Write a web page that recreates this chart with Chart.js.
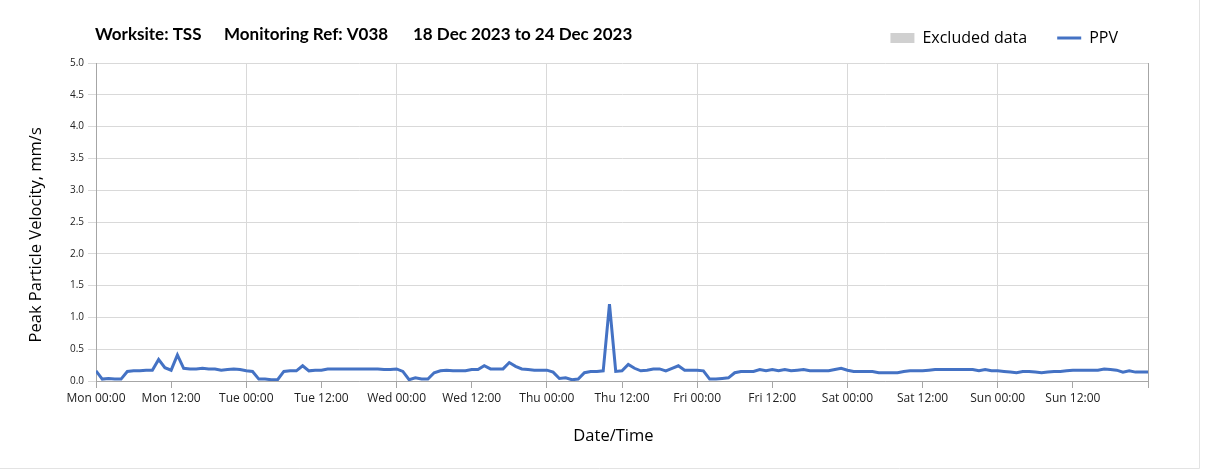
<!DOCTYPE html>
<html>
<head>
<meta charset="utf-8">
<script src="https://cdn.jsdelivr.net/npm/chart.js@4"></script>
<style>
  html, body { margin: 0; padding: 0; background: #fff; }
  #wrap { width: 1207px; height: 472px; position: relative; }
</style>
</head>
<body>
<div id="wrap"><canvas id="chart" width="1207" height="472"></canvas></div>
<script>
// hourly PPV readings, Mon 00:00 to Sun 24:00 (mm/s)
const ppv = [
  0.16, 0.03, 0.04, 0.03, 0.03, 0.15, 0.16, 0.16, 0.17, 0.17, 0.34, 0.21,
  0.17, 0.41, 0.20, 0.19, 0.19, 0.20, 0.19, 0.19, 0.17, 0.18, 0.19, 0.18,
  0.16, 0.15, 0.03, 0.03, 0.02, 0.02, 0.15, 0.16, 0.16, 0.24, 0.16, 0.17,
  0.17, 0.19, 0.19, 0.19, 0.19, 0.19, 0.19, 0.19, 0.19, 0.19, 0.18, 0.18,
  0.19, 0.15, 0.02, 0.05, 0.03, 0.03, 0.13, 0.16, 0.17, 0.16, 0.16, 0.16,
  0.18, 0.18, 0.24, 0.19, 0.19, 0.19, 0.29, 0.23, 0.19, 0.18, 0.17, 0.17,
  0.17, 0.14, 0.04, 0.05, 0.02, 0.03, 0.13, 0.15, 0.15, 0.16, 1.21, 0.15,
  0.16, 0.26, 0.20, 0.16, 0.17, 0.19, 0.19, 0.16, 0.20, 0.24, 0.17, 0.17,
  0.17, 0.16, 0.03, 0.03, 0.04, 0.05, 0.13, 0.15, 0.15, 0.15, 0.18, 0.16,
  0.18, 0.16, 0.18, 0.16, 0.17, 0.18, 0.16, 0.16, 0.16, 0.16, 0.18, 0.20,
  0.17, 0.15, 0.15, 0.15, 0.15, 0.13, 0.13, 0.13, 0.13, 0.15, 0.16, 0.16,
  0.16, 0.17, 0.18, 0.18, 0.18, 0.18, 0.18, 0.18, 0.18, 0.16, 0.18, 0.16,
  0.16, 0.15, 0.14, 0.13, 0.15, 0.15, 0.14, 0.13, 0.14, 0.15, 0.15, 0.16,
  0.17, 0.17, 0.17, 0.17, 0.17, 0.19, 0.18, 0.17, 0.14, 0.16, 0.14, 0.14,
  0.14
];

// x tick labels, one every 12 hours
const xTickLabels = [
  'Mon 00:00', 'Mon 12:00', 'Tue 00:00', 'Tue 12:00', 'Wed 00:00', 'Wed 12:00',
  'Thu 00:00', 'Thu 12:00', 'Fri 00:00', 'Fri 12:00', 'Sat 00:00', 'Sat 12:00',
  'Sun 00:00', 'Sun 12:00'
];

const titleParts = ['Worksite: TSS', 'Monitoring Ref: V038', '18 Dec 2023 to 24 Dec 2023'];
const seriesNames = ['Excluded data', 'PPV'];

const blue = '#4472C4';

// make the legend box taller so the plot starts lower, without moving the items
const legendHeight = {
  id: 'legendHeight',
  beforeUpdate(chart) {
    const lg = chart.legend;
    if (lg && !lg._tall) {
      const fit = lg.fit;
      lg.fit = function () { fit.call(this); this.height = 63; };
      lg._tall = true;
    }
  }
};

const headerPlugin = {
  id: 'header',
  afterDraw(chart) {
    const ctx = chart.ctx;
    ctx.save();
    // faint outer frame
    ctx.strokeStyle = '#e3e3e3';
    ctx.lineWidth = 1;
    ctx.beginPath();
    ctx.moveTo(1199.5, 0);
    ctx.lineTo(1199.5, 468.5);
    ctx.lineTo(0, 468.5);
    ctx.stroke();
    // right edge of plot
    const a = chart.chartArea;
    ctx.strokeStyle = '#a6a6a6';
    ctx.beginPath();
    ctx.moveTo(Math.round(a.right) + 0.5, a.top);
    ctx.lineTo(Math.round(a.right) + 0.5, a.bottom + 7);
    ctx.stroke();
    // title
    ctx.fillStyle = '#000';
    ctx.font = 'bold 17px Lato';
    ctx.textBaseline = 'middle';
    const xs = [95, 224, 413];
    titleParts.forEach((t, i) => ctx.fillText(t, xs[i], 35));
    ctx.restore();
  }
};

const ctx = document.getElementById('chart').getContext('2d');
Chart.defaults.font.family = 'Open Sans';
Chart.defaults.color = '#000';

new Chart(ctx, {
  type: 'line',
  data: {
    datasets: [
      {
        label: seriesNames[0],
        data: [],
        backgroundColor: '#d0d0d0',
        borderColor: '#d0d0d0',
        borderWidth: 0,
        pointStyle: 'rect',
        pointRadius: 0
      },
      {
        label: seriesNames[1],
        data: ppv.map((v, i) => ({ x: i, y: v })),
        borderColor: blue,
        backgroundColor: blue,
        borderWidth: 3,
        pointStyle: 'line',
        pointRadius: 0,
        tension: 0
      }
    ]
  },
  options: {
    responsive: false,
    animation: false,
    layout: { padding: { left: 0, right: 59, top: 0, bottom: 0 } },
    plugins: {
      legend: {
        position: 'top',
        align: 'end',
        labels: {
          usePointStyle: true,
          pointStyleWidth: 24,
          boxHeight: 10,
          padding: 30,
          color: '#000',
          font: { size: 16 }
        }
      },
      tooltip: { enabled: false }
    },
    scales: {
      x: {
        type: 'linear',
        min: 0,
        max: 168,
        afterFit: s => { s.height = 91; },
        ticks: {
          stepSize: 12,
          autoSkip: false,
          maxRotation: 0,
          padding: 3,
          color: '#222',
          font: { size: 12 },
          callback: v => xTickLabels[v / 12] || ''
        },
        grid: {
          color: c => (c.tick && c.tick.value % 24 === 0) ? '#d9d9d9' : 'rgba(0,0,0,0)',
          tickColor: '#a6a6a6',
          tickLength: 7
        },
        border: { color: '#a6a6a6' },
        title: {
          display: true,
          text: 'Date/Time    ',
          font: { size: 16.5 },
          padding: { top: 0, bottom: 26 }
        }
      },
      y: {
        min: 0,
        max: 5,
        afterFit: s => { s.width = 96; },
        ticks: {
          stepSize: 0.5,
          padding: 4,
          color: '#222',
          font: { size: 10 },
          callback: v => v.toFixed(1)
        },
        grid: {
          color: '#d9d9d9',
          tickColor: '#d9d9d9',
          tickLength: 8
        },
        border: { color: '#a6a6a6' },
        title: {
          display: true,
          text: 'Peak Particle Velocity, mm/s      ',
          font: { size: 16.5 },
          padding: { top: 26, bottom: 0 }
        }
      }
    }
  },
  plugins: [legendHeight, headerPlugin]
});
</script>
</body>
</html>
